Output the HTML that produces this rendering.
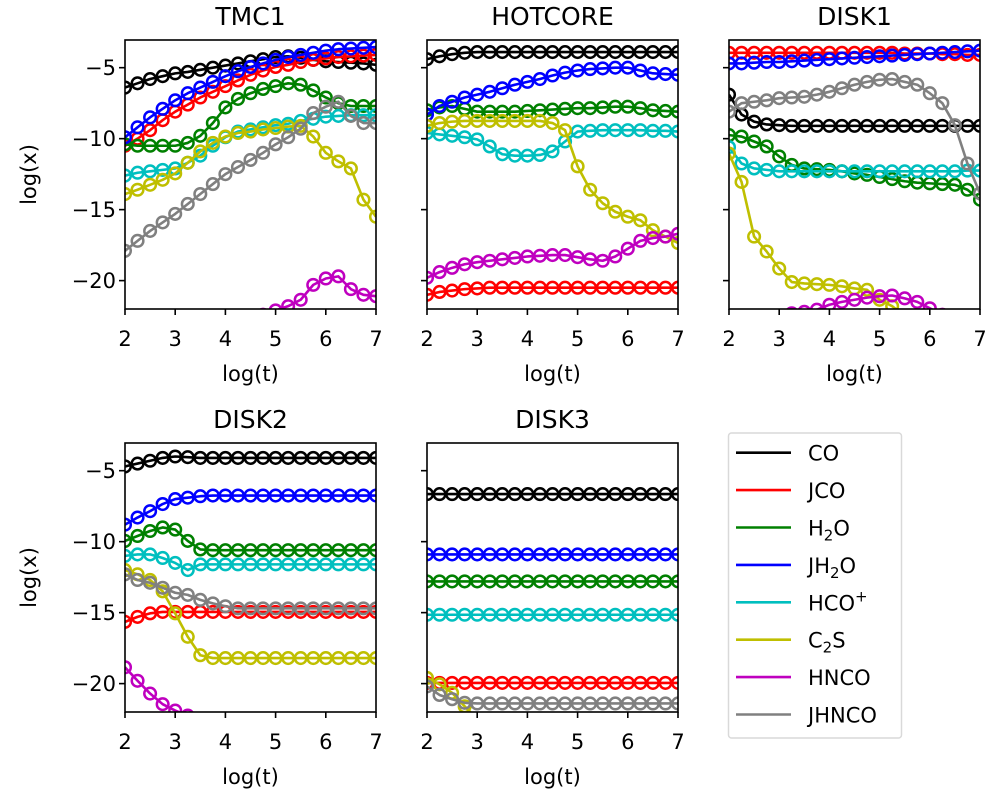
<!DOCTYPE html>
<html><head><meta charset="utf-8"><style>
body{margin:0;background:#fff}
svg{display:block;font-family:"DejaVu Sans","Liberation Sans",sans-serif}
</style></head><body>
<svg id="fig" width="1000" height="800" viewBox="0 0 1000 800" xmlns="http://www.w3.org/2000/svg"></svg>
<script>
const xs = [2,2.25,2.5,2.75,3,3.25,3.5,3.75,4,4.25,4.5,4.75,5,5.25,5.5,5.75,6,6.25,6.5,6.75,7];
const speciesNames = ["CO","JCO","H2O","JH2O","HCO+","C2S","HNCO","JHNCO"];
const panelTitles = ["TMC1","HOTCORE","DISK1","DISK2","DISK3"];
const xTickLabels = [2,3,4,5,6,7];
const yTickLabels = [-5,-10,-15,-20];

const tmc1CO   = [-6.4,-6.1,-5.8,-5.6,-5.4,-5.3,-5.15,-5.0,-4.85,-4.7,-4.55,-4.4,-4.25,-4.2,-4.3,-4.45,-4.55,-4.6,-4.65,-4.7,-4.8];
const tmc1JCO  = [-10.5,-10.0,-9.4,-8.7,-8.1,-7.6,-7.1,-6.7,-6.3,-5.9,-5.5,-5.2,-4.95,-4.8,-4.6,-4.45,-4.35,-4.25,-4.2,-4.15,-4.1];
const tmc1H2O  = [-10.4,-10.5,-10.5,-10.5,-10.5,-10.3,-9.8,-8.9,-7.8,-7.2,-6.8,-6.5,-6.3,-6.1,-6.2,-6.6,-7.1,-7.5,-7.7,-7.7,-7.7];
const tmc1JH2O = [-9.9,-9.2,-8.5,-7.9,-7.3,-6.8,-6.4,-6.0,-5.6,-5.25,-4.95,-4.7,-4.45,-4.25,-4.1,-3.95,-3.8,-3.7,-3.65,-3.6,-3.55];
const tmc1HCOp = [-12.6,-12.4,-12.3,-12.2,-12.1,-11.7,-11.2,-10.5,-9.9,-9.5,-9.35,-9.2,-9.05,-8.95,-8.75,-8.6,-8.45,-8.4,-8.35,-8.35,-8.35];
const tmc1C2S  = [-13.9,-13.6,-13.25,-12.9,-12.45,-11.7,-10.9,-10.3,-9.85,-9.6,-9.5,-9.35,-9.25,-9.15,-9.1,-9.85,-11.0,-11.6,-12.1,-14.3,-15.5];
const tmc1HNCO = [-27,-26.5,-26,-25.6,-25.2,-24.8,-24.4,-24,-23.6,-23.2,-22.8,-22.4,-22.1,-21.8,-21.35,-20.3,-19.85,-19.7,-20.6,-21.0,-21.1];
const tmc1JHNCO= [-17.9,-17.2,-16.5,-15.9,-15.3,-14.6,-13.9,-13.2,-12.5,-12.0,-11.5,-11.0,-10.4,-9.9,-9.3,-8.2,-7.75,-7.4,-8.4,-8.9,-8.9];

const hotCO    = [-4.4,-4.2,-4.05,-3.95,-3.9,-3.9,-3.9,-3.9,-3.9,-3.9,-3.9,-3.9,-3.9,-3.9,-3.9,-3.9,-3.9,-3.9,-3.9,-3.9,-3.9];
const hotJCO   = [-21.0,-20.8,-20.7,-20.6,-20.55,-20.5,-20.5,-20.5,-20.5,-20.5,-20.5,-20.5,-20.5,-20.5,-20.5,-20.5,-20.5,-20.5,-20.5,-20.5,-20.5];
const hotH2O   = [-8.0,-7.8,-7.7,-7.9,-8.1,-8.1,-8.1,-8.1,-8.05,-8.0,-7.95,-7.9,-7.85,-7.85,-7.8,-7.75,-7.75,-7.85,-8.0,-8.05,-8.1];
const hotJH2O  = [-8.3,-7.7,-7.4,-7.1,-6.9,-6.7,-6.45,-6.2,-6.0,-5.8,-5.55,-5.35,-5.2,-5.1,-5.05,-5.0,-5.0,-5.2,-5.4,-5.45,-5.5];
const hotHCOp  = [-9.6,-9.7,-9.8,-9.9,-10.05,-10.55,-11.1,-11.2,-11.2,-11.15,-10.9,-10.2,-9.5,-9.45,-9.4,-9.4,-9.4,-9.4,-9.45,-9.45,-9.5];
const hotC2S   = [-9.1,-8.9,-8.8,-8.75,-8.75,-8.75,-8.75,-8.75,-8.75,-8.75,-8.9,-9.4,-11.95,-13.6,-14.55,-15.15,-15.5,-15.75,-16.45,-16.9,-17.35];
const hotHNCO  = [-19.8,-19.4,-19.1,-18.85,-18.7,-18.6,-18.5,-18.4,-18.3,-18.25,-18.2,-18.2,-18.35,-18.5,-18.6,-18.3,-17.75,-17.2,-17.0,-16.9,-16.7];
const hotJHNCO = [-30,-30,-30,-30,-30,-30,-30,-30,-30,-30,-30,-30,-30,-30,-30,-30,-30,-30,-30,-30,-30];

const d1CO     = [-6.9,-8.3,-8.8,-9.0,-9.05,-9.1,-9.1,-9.1,-9.1,-9.1,-9.1,-9.1,-9.1,-9.1,-9.1,-9.1,-9.1,-9.1,-9.1,-9.1,-9.1];
const d1JCO    = [-3.95,-3.95,-3.95,-3.95,-3.95,-3.95,-3.95,-3.95,-3.95,-3.95,-3.95,-3.95,-3.95,-3.95,-4.0,-4.0,-4.0,-4.05,-4.05,-4.1,-4.1];
const d1H2O    = [-9.75,-9.85,-10.2,-10.55,-11.25,-11.85,-12.1,-12.15,-12.2,-12.3,-12.45,-12.55,-12.7,-12.85,-13.0,-13.1,-13.15,-13.2,-13.25,-13.6,-14.3];
const d1JH2O   = [-4.7,-4.7,-4.65,-4.6,-4.6,-4.55,-4.5,-4.45,-4.4,-4.35,-4.3,-4.25,-4.2,-4.15,-4.1,-4.05,-4.0,-3.95,-3.9,-3.85,-3.8];
const d1HCOp   = [-10.6,-11.75,-12.1,-12.2,-12.3,-12.3,-12.3,-12.3,-12.3,-12.3,-12.3,-12.3,-12.3,-12.3,-12.3,-12.3,-12.3,-12.3,-12.3,-12.25,-12.25];
const d1C2S    = [-11.05,-13.05,-16.9,-17.95,-19.15,-20.1,-20.2,-20.25,-20.3,-20.4,-20.55,-20.65,-21.35,-21.8,-22.5,-23,-23.5,-24,-24.5,-25,-25.5];
const d1HNCO   = [-24,-23.6,-23.3,-23,-22.7,-22.3,-22.2,-22.05,-21.7,-21.5,-21.35,-21.2,-21.1,-21.05,-21.25,-21.5,-21.95,-22.4,-22.8,-23.2,-23.6];
const d1JHNCO  = [-8.1,-7.5,-7.4,-7.3,-7.15,-7.1,-7.05,-6.9,-6.7,-6.45,-6.2,-6.0,-5.85,-5.8,-6.0,-6.2,-6.8,-7.5,-9.05,-11.75,-13.85];

const d2CO     = [-4.7,-4.5,-4.3,-4.1,-4.0,-4.05,-4.1,-4.1,-4.1,-4.1,-4.1,-4.1,-4.1,-4.1,-4.1,-4.1,-4.1,-4.1,-4.1,-4.1,-4.1];
const d2JCO    = [-15.65,-15.3,-15.05,-14.95,-14.95,-14.95,-14.95,-14.95,-14.95,-14.95,-14.95,-14.95,-14.95,-14.95,-14.95,-14.95,-14.95,-14.95,-14.95,-14.95,-14.95];
const d2H2O    = [-9.95,-9.6,-9.25,-9.0,-9.15,-9.95,-10.55,-10.6,-10.6,-10.6,-10.6,-10.6,-10.6,-10.6,-10.6,-10.6,-10.6,-10.6,-10.6,-10.6,-10.6];
const d2JH2O   = [-8.8,-8.3,-7.85,-7.35,-7.0,-6.9,-6.8,-6.75,-6.75,-6.75,-6.75,-6.75,-6.75,-6.75,-6.75,-6.75,-6.75,-6.75,-6.75,-6.75,-6.75];
const d2HCOp   = [-11.0,-10.9,-10.9,-11.15,-11.5,-12.0,-11.6,-11.6,-11.6,-11.6,-11.6,-11.6,-11.6,-11.6,-11.6,-11.6,-11.6,-11.6,-11.6,-11.6,-11.6];
const d2C2S    = [-12.0,-12.3,-12.7,-13.5,-15.05,-16.7,-18.0,-18.2,-18.2,-18.2,-18.2,-18.2,-18.2,-18.2,-18.2,-18.2,-18.2,-18.2,-18.2,-18.2,-18.2];
const d2HNCO   = [-18.85,-19.8,-20.7,-21.45,-21.9,-22.25,-22.6,-22.9,-23.2,-23.5,-23.8,-24.1,-24.4,-24.7,-25,-25.3,-25.6,-25.9,-26.2,-26.5,-26.8];
const d2JHNCO  = [-12.3,-12.7,-12.9,-13.25,-13.6,-13.75,-14.1,-14.35,-14.55,-14.7,-14.7,-14.7,-14.7,-14.7,-14.7,-14.7,-14.7,-14.7,-14.7,-14.7,-14.7];

const d3CO     = [-6.65,-6.65,-6.65,-6.65,-6.65,-6.65,-6.65,-6.65,-6.65,-6.65,-6.65,-6.65,-6.65,-6.65,-6.65,-6.65,-6.65,-6.65,-6.65,-6.65,-6.65];
const d3JCO    = [-19.95,-19.95,-19.95,-19.95,-19.95,-19.95,-19.95,-19.95,-19.95,-19.95,-19.95,-19.95,-19.95,-19.95,-19.95,-19.95,-19.95,-19.95,-19.95,-19.95,-19.95];
const d3H2O    = [-12.8,-12.8,-12.8,-12.8,-12.8,-12.8,-12.8,-12.8,-12.8,-12.8,-12.8,-12.8,-12.8,-12.8,-12.8,-12.8,-12.8,-12.8,-12.8,-12.8,-12.8];
const d3JH2O   = [-10.9,-10.9,-10.9,-10.9,-10.9,-10.9,-10.9,-10.9,-10.9,-10.9,-10.9,-10.9,-10.9,-10.9,-10.9,-10.9,-10.9,-10.9,-10.9,-10.9,-10.9];
const d3HCOp   = [-15.15,-15.15,-15.15,-15.15,-15.15,-15.15,-15.15,-15.15,-15.15,-15.15,-15.15,-15.15,-15.15,-15.15,-15.15,-15.15,-15.15,-15.15,-15.15,-15.15,-15.15];
const d3C2S    = [-19.6,-20.05,-20.65,-21.6,-22.5,-23.4,-24.3,-25.2,-26,-26.8,-27.6,-28.4,-29,-29.5,-30,-30,-30,-30,-30,-30,-30];
const d3HNCO   = [-30,-30,-30,-30,-30,-30,-30,-30,-30,-30,-30,-30,-30,-30,-30,-30,-30,-30,-30,-30,-30];
const d3JHNCO  = [-20.2,-20.8,-21.1,-21.35,-21.4,-21.4,-21.4,-21.4,-21.4,-21.4,-21.4,-21.4,-21.4,-21.4,-21.4,-21.4,-21.4,-21.4,-21.4,-21.4,-21.4];

const panelSeries = [
  [tmc1CO,tmc1JCO,tmc1H2O,tmc1JH2O,tmc1HCOp,tmc1C2S,tmc1HNCO,tmc1JHNCO],
  [hotCO,hotJCO,hotH2O,hotJH2O,hotHCOp,hotC2S,hotHNCO,hotJHNCO],
  [d1CO,d1JCO,d1H2O,d1JH2O,d1HCOp,d1C2S,d1HNCO,d1JHNCO],
  [d2CO,d2JCO,d2H2O,d2JH2O,d2HCOp,d2C2S,d2HNCO,d2JHNCO],
  [d3CO,d3JCO,d3H2O,d3JH2O,d3HCOp,d3C2S,d3HNCO,d3JHNCO]
];

const colors = ["#000000","#ff0000","#008000","#0000ff","#00bfbf","#bfbf00","#bf00bf","#808080"];
const NS = "http://www.w3.org/2000/svg";
const svg = document.getElementById("fig");
function mk(tag, attrs, parent){
  const e = document.createElementNS(NS, tag);
  for (const k in attrs) e.setAttribute(k, attrs[k]);
  (parent||svg).appendChild(e);
  return e;
}
const W = 251, H = 269;
const lefts = [125, 427, 729];
const tops = [40, 443];
const XMIN=2, XMAX=7, YMIN=-22, YMAX=-3.05;
const defs = mk("defs", {});

panelTitles.forEach((title, p) => {
  const L = lefts[p % 3], T = tops[Math.floor(p / 3)];
  const sx = v => L + (v - XMIN) / (XMAX - XMIN) * W;
  const sy = v => T + (YMAX - v) / (YMAX - YMIN) * H;
  const g = mk("g", {});
  
  
  const cp = mk("clipPath", {id: "clip" + p}, defs);
  mk("rect", {x: L, y: T, width: W, height: H}, cp);
  const plot = mk("g", {"clip-path": "url(#clip" + p + ")"}, g);
  panelSeries[p].forEach((vals, s) => {
    const sg = mk("g", {}, plot);
    
    
    const pts = vals.map((v, i) => sx(xs[i]).toFixed(2) + "," + sy(v).toFixed(2)).join(" ");
    const line = mk("polyline", {points: pts, fill: "none", stroke: colors[s], "stroke-width": 2.6, "stroke-linejoin": "round"}, sg);
    
    
    vals.forEach((v, i) => {
      const c = mk("circle", {cx: sx(xs[i]).toFixed(2), cy: sy(v).toFixed(2), r: 5.8, fill: "none", stroke: colors[s], "stroke-width": 2.5}, sg);
      
      
    });
  });
  const frame = mk("rect", {x: L, y: T, width: W, height: H, fill: "none", stroke: "#000", "stroke-width": 1.6}, g);
  
  
  xTickLabels.forEach(t => {
    const x = sx(t);
    mk("line", {x1: x, x2: x, y1: T + H, y2: T + H + 6, stroke: "#000", "stroke-width": 1.6}, g);
    const tx = mk("text", {x: x, y: T + H + 37, "text-anchor": "middle", "font-size": 21}, g);
    tx.textContent = t;
    
    
  });
  yTickLabels.forEach(t => {
    const y = sy(t);
    mk("line", {x1: L - 6, x2: L, y1: y, y2: y, stroke: "#000", "stroke-width": 1.6}, g);
    if (p % 3 === 0) {
      const ty = mk("text", {x: L - 9, y: y + 7.5, "text-anchor": "end", "font-size": 21}, g);
      ty.textContent = "\u2212" + Math.abs(t);
      
      
    }
  });
  const xl = mk("text", {x: L + W / 2, y: T + H + 72, "text-anchor": "middle", "font-size": 21}, g);
  xl.textContent = "log(t)";
  
  
  if (p % 3 === 0) {
    const cy = T + H / 2;
    const yl = mk("text", {x: 36, y: cy, "text-anchor": "middle", "font-size": 21, transform: "rotate(-90 36 " + cy + ")"}, g);
    yl.textContent = "log(x)";
    
    
  }
  const tt = mk("text", {x: L + W / 2, y: T - 15, "text-anchor": "middle", "font-size": 25}, g);
  tt.textContent = title;
  
  
});

// legend
const lg = mk("g", {});


mk("rect", {x: 728.5, y: 433, width: 173, height: 305, rx: 3, fill: "#fff", stroke: "#d9d9d9", "stroke-width": 1.5}, lg);
const legendLabels = [["CO"],["JCO"],["H","2","O"],["JH","2","O"],["HCO","+"],["C","2","S"],["HNCO"],["JHNCO"]];
legendLabels.forEach((lab, i) => {
  const y = 452.7 + i * 37.4;
  const e = mk("g", {}, lg);
  
  
  mk("line", {x1: 736, x2: 791, y1: y, y2: y, stroke: colors[i], "stroke-width": 2.6}, e);
  const t = mk("text", {x: 808, y: y + 8, "font-size": 21}, e);
  if (lab.length === 1) t.textContent = lab[0];
  else {
    const a = mk("tspan", {}, t); a.textContent = lab[0];
    const sup = lab[0] === "HCO";
    const b = mk("tspan", {"font-size": 15, dy: sup ? -9 : 5}, t); b.textContent = lab[1];
    if (lab[2]) { const c = mk("tspan", {dy: -5}, t); c.textContent = lab[2]; }
  }
});
</script>
</body></html>
